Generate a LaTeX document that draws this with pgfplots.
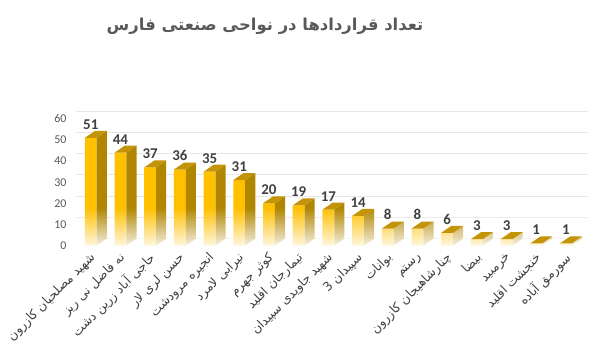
\documentclass[border=0pt]{standalone}
\usepackage{pgfplots}
\pgfplotsset{compat=1.18}
\usepackage{fontspec}
\setmainfont{Carlito}
\newfontfamily\arabicfont[Script=Arabic]{DejaVu Sans}
\usetikzlibrary{fadings}
\TeXXeTstate=1
\definecolor{front}{HTML}{FFC000}
\definecolor{side}{HTML}{B08600}
\definecolor{topc}{HTML}{C49408}
\definecolor{txt}{HTML}{404040}
\definecolor{tickc}{HTML}{595959}
\definecolor{gridc}{HTML}{E6E6E6}
\begin{document}
\begin{tikzpicture}
\path[use as bounding box] (0bp,0bp) rectangle (590bp,353bp);
\node[font=\arabicfont\bfseries\fontsize{16.5}{16.5}\selectfont, text=tickc] at (265bp,327bp) {\beginR تعداد قراردادها در نواحی صنعتی فارس\endR};
\begin{axis}[
  at={(70bp,107.5bp)}, anchor=south west,
  scale only axis, width=512bp, height=126.6bp,
  xmin=-0.70, xmax=16.54, ymin=0, ymax=60,
  clip=false,
  axis line style={draw=none}, tick style={draw=none},
  ytick={0,10,...,60},
  yticklabel style={font=\fontsize{12}{12}\selectfont, text=tickc},
  /pgf/number format/assume math mode=true,
  ymajorgrids, major grid style={draw=gridc, line width=0.6bp, yshift=7.5bp, xshift=6bp},
  xtick={0,...,16},
  xticklabels={
    {\beginR شهید مصلحیان کازرون\endR},
    {\beginR نه فاضل نی ریز\endR},
    {\beginR حاجی آباد زرین دشت\endR},
    {\beginR حسن لری لار\endR},
    {\beginR انجیره مرودشت\endR},
    {\beginR نیرابی لامرد\endR},
    {\beginR کوثر جهرم\endR},
    {\beginR تیمارجان اقلید\endR},
    {\beginR شهید جاویدی سپیدان\endR},
    {\beginR سپیدان 3\endR},
    {\beginR بوانات\endR},
    {\beginR رستم\endR},
    {\beginR چنارشاهیجان کازرون\endR},
    {\beginR بیضا\endR},
    {\beginR خرمبید\endR},
    {\beginR خنجشت اقلید\endR},
    {\beginR سورمق آباده\endR}},
  xticklabel style={font=\arabicfont\fontsize{12.5}{12.5}\selectfont, text=txt, rotate=45, anchor=east, xshift=-2bp, yshift=-9bp},
]
\addplot[ybar, bar width=0.4, fill=front, draw=none,
  nodes near coords,
  every node near coord/.append style={font=\bfseries\fontsize{15}{15}\selectfont, text=txt, yshift=5bp}]
  coordinates {(0,51) (1,44) (2,37) (3,36) (4,35) (5,31) (6,20) (7,19) (8,17) (9,14) (10,8) (11,8) (12,6) (13,3) (14,3) (15,1) (16,1)};
\pgfplotsforeachungrouped \i/\v in {0/51,1/44,2/37,3/36,4/35,5/31,6/20,7/19,8/17,9/14,10/8,11/8,12/6,13/3,14/3,15/1,16/1}{
  \pgfmathsetmacro\xa{\i+0.2}
  \pgfmathsetmacro\xb{\i+0.54}
  \pgfmathsetmacro\vt{\v+3.3}
  \edef\temp{\noexpand\addplot[forget plot, fill=side, draw=none] coordinates {(\xa,0) (\xb,3.3) (\xb,\vt) (\xa,\v)};}
  \temp
}
\fill[white, path fading=north, fill opacity=0.92] (axis cs:-0.7,-1) rectangle (axis cs:16.9,18);
\pgfplotsforeachungrouped \i/\v in {0/51,1/44,2/37,3/36,4/35,5/31,6/20,7/19,8/17,9/14,10/8,11/8,12/6,13/3,14/3,15/1,16/1}{
  \pgfmathsetmacro\xa{\i+0.2}
  \pgfmathsetmacro\xb{\i+0.54}
  \pgfmathsetmacro\xc{\i-0.2}
  \pgfmathsetmacro\xd{\i+0.14}
  \pgfmathsetmacro\vt{\v+3.3}
  \edef\temp{\noexpand\addplot[forget plot, fill=topc, draw=none] coordinates {(\xc,\v) (\xa,\v) (\xb,\vt) (\xd,\vt)};}
  \temp
}
\end{axis}
\end{tikzpicture}
\end{document}
